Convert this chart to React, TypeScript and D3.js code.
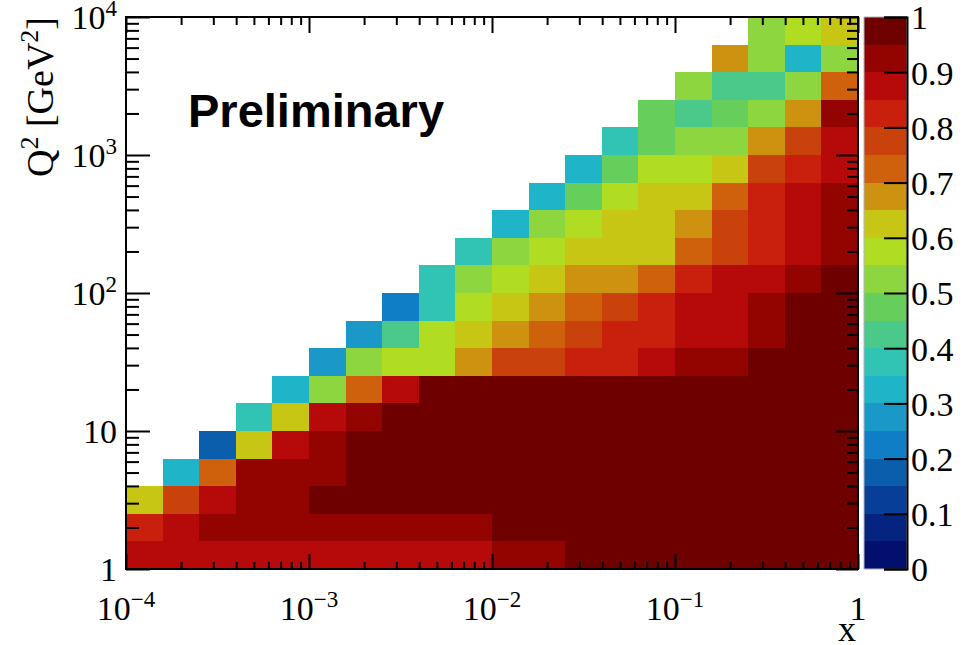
import React, { useEffect, useRef } from "react";
import * as d3 from "d3";

// efficiency per (x, Q2) bin, one array per Q2 bin (bottom row first), null = no entries
const q2Row00 = [0.87, 0.87, 0.87, 0.87, 0.87, 0.87, 0.87, 0.87, 0.87, 0.87, 0.92, 0.92, 0.97, 0.97, 0.97, 0.97, 0.97, 0.97, 0.97, 0.97];
const q2Row01 = [0.82, 0.87, 0.92, 0.92, 0.92, 0.92, 0.92, 0.92, 0.92, 0.92, 0.97, 0.97, 0.97, 0.97, 0.97, 0.97, 0.97, 0.97, 0.97, 0.97];
const q2Row02 = [0.62, 0.77, 0.87, 0.92, 0.92, 0.97, 0.97, 0.97, 0.97, 0.97, 0.97, 0.97, 0.97, 0.97, 0.97, 0.97, 0.97, 0.97, 0.97, 0.97];
const q2Row03 = [null, 0.32, 0.72, 0.92, 0.92, 0.92, 0.97, 0.97, 0.97, 0.97, 0.97, 0.97, 0.97, 0.97, 0.97, 0.97, 0.97, 0.97, 0.97, 0.97];
const q2Row04 = [null, null, 0.17, 0.62, 0.87, 0.92, 0.97, 0.97, 0.97, 0.97, 0.97, 0.97, 0.97, 0.97, 0.97, 0.97, 0.97, 0.97, 0.97, 0.97];
const q2Row05 = [null, null, null, 0.37, 0.62, 0.87, 0.92, 0.97, 0.97, 0.97, 0.97, 0.97, 0.97, 0.97, 0.97, 0.97, 0.97, 0.97, 0.97, 0.97];
const q2Row06 = [null, null, null, null, 0.32, 0.52, 0.72, 0.87, 0.97, 0.97, 0.97, 0.97, 0.97, 0.97, 0.97, 0.97, 0.97, 0.97, 0.97, 0.97];
const q2Row07 = [null, null, null, null, null, 0.27, 0.52, 0.57, 0.57, 0.67, 0.77, 0.77, 0.82, 0.82, 0.87, 0.92, 0.92, 0.97, 0.97, 0.97];
const q2Row08 = [null, null, null, null, null, null, 0.27, 0.42, 0.57, 0.62, 0.67, 0.72, 0.77, 0.82, 0.82, 0.87, 0.87, 0.92, 0.97, 0.97];
const q2Row09 = [null, null, null, null, null, null, null, 0.22, 0.37, 0.57, 0.62, 0.67, 0.72, 0.77, 0.82, 0.87, 0.87, 0.92, 0.97, 0.97];
const q2Row10 = [null, null, null, null, null, null, null, null, 0.37, 0.52, 0.57, 0.62, 0.67, 0.67, 0.72, 0.82, 0.87, 0.87, 0.92, 0.97];
const q2Row11 = [null, null, null, null, null, null, null, null, null, 0.37, 0.52, 0.57, 0.62, 0.62, 0.62, 0.72, 0.77, 0.82, 0.87, 0.92];
const q2Row12 = [null, null, null, null, null, null, null, null, null, null, 0.32, 0.52, 0.57, 0.62, 0.62, 0.67, 0.77, 0.82, 0.87, 0.92];
const q2Row13 = [null, null, null, null, null, null, null, null, null, null, null, 0.32, 0.47, 0.57, 0.62, 0.62, 0.72, 0.82, 0.87, 0.92];
const q2Row14 = [null, null, null, null, null, null, null, null, null, null, null, null, 0.32, 0.47, 0.57, 0.57, 0.62, 0.77, 0.82, 0.87];
const q2Row15 = [null, null, null, null, null, null, null, null, null, null, null, null, null, 0.37, 0.47, 0.52, 0.52, 0.67, 0.77, 0.87];
const q2Row16 = [null, null, null, null, null, null, null, null, null, null, null, null, null, null, 0.47, 0.42, 0.47, 0.52, 0.67, 0.92];
const q2Row17 = [null, null, null, null, null, null, null, null, null, null, null, null, null, null, null, 0.52, 0.42, 0.42, 0.52, 0.72];
const q2Row18 = [null, null, null, null, null, null, null, null, null, null, null, null, null, null, null, null, 0.67, 0.52, 0.32, 0.52];
const q2Row19 = [null, null, null, null, null, null, null, null, null, null, null, null, null, null, null, null, null, 0.52, 0.57, 0.62];

const q2Rows = [q2Row00, q2Row01, q2Row02, q2Row03, q2Row04, q2Row05, q2Row06, q2Row07, q2Row08, q2Row09,
  q2Row10, q2Row11, q2Row12, q2Row13, q2Row14, q2Row15, q2Row16, q2Row17, q2Row18, q2Row19];

// axis ranges and labels
const xRange = [1e-4, 1];
const q2Range = [1, 1e4];
const binsPerDecade = 5;
const xTickValues = [1e-4, 1e-3, 1e-2, 1e-1, 1];
const xTickBase = ["10", "10", "10", "10", "1"];
const xTickExp = ["\u22124", "\u22123", "\u22122", "\u22121", ""];
const yTickValues = [1, 10, 100, 1000, 10000];
const yTickBase = ["1", "10", "10", "10", "10"];
const yTickExp = ["", "", "2", "3", "4"];
const zTicks = [0, 0.1, 0.2, 0.3, 0.4, 0.5, 0.6, 0.7, 0.8, 0.9, 1];

// 20 contour colours, low to high
const palette = [
  "#020f6c", "#04247f", "#073f98", "#0a5eac", "#0f7ec6", "#1a98c7", "#20b4c8", "#31c3b4", "#4bc98a", "#66cf5b",
  "#8dd63f", "#b0dc22", "#c7c614", "#cc9210", "#cf600c", "#c9420b", "#c8200c", "#b60a0a", "#930300", "#6e0000",
];

const W = 964;
const H = 645;
const left = 126, right = 858, top = 17, bottom = 569;
const zLeft = 864, zRight = 907;
const serif = "'Liberation Serif', 'DejaVu Serif', serif";

function EfficiencyMap() {
  const ref = useRef<SVGSVGElement>(null);

  useEffect(() => {
    const svg = d3.select(ref.current);
    svg.selectAll("*").remove();

    const x = d3.scaleLog().domain(xRange).range([left, right]);
    const y = d3.scaleLog().domain(q2Range).range([bottom, top]);
    const z = d3.scaleLinear().domain([0, 1]).range([bottom, top]);
    const color = d3.scaleQuantize<string>().domain([0, 1]).range(palette);

    const edge = (lo: number, i: number) => lo * Math.pow(10, i / binsPerDecade);

    // cells
    const cells: { i: number; j: number; v: number }[] = [];
    q2Rows.forEach((row, j) => row.forEach((v, i) => { if (v !== null) cells.push({ i, j, v }); }));

    svg.append("g")
      .attr("shape-rendering", "crispEdges")
      .selectAll("rect")
      .data(cells)
      .join("rect")
      .attr("x", d => x(edge(xRange[0], d.i)))
      .attr("width", d => x(edge(xRange[0], d.i + 1)) - x(edge(xRange[0], d.i)))
      .attr("y", d => y(edge(q2Range[0], d.j + 1)))
      .attr("height", d => y(edge(q2Range[0], d.j)) - y(edge(q2Range[0], d.j + 1)))
      .attr("fill", d => color(d.v));

    // frame
    svg.append("rect")
      .attr("x", left).attr("y", top)
      .attr("width", right - left).attr("height", bottom - top)
      .attr("fill", "none").attr("stroke", "black").attr("stroke-width", 2);

    const xAll = x.ticks();
    const yAll = y.ticks();
    const isMajor = (v: number) => Math.abs(Math.log10(v) - Math.round(Math.log10(v))) < 1e-6;
    const xMinor = xAll.filter(v => !isMajor(v));
    const yMinor = yAll.filter(v => !isMajor(v));

    const tickAxis = (axis: d3.Axis<d3.NumberValue>, tx: number, ty: number) => {
      const g = svg.append("g").attr("transform", `translate(${tx},${ty})`).call(axis);
      g.select(".domain").remove();
      g.selectAll(".tick line").attr("stroke", "black").attr("stroke-width", 2);
      g.selectAll(".tick text").remove();
    };

    tickAxis(d3.axisBottom(x).tickValues(xMinor).tickSize(-7), 0, bottom);
    tickAxis(d3.axisBottom(x).tickValues(xTickValues).tickSize(-15), 0, bottom);
    tickAxis(d3.axisTop(x).tickValues(xMinor).tickSize(-8), 0, top);
    tickAxis(d3.axisTop(x).tickValues(xTickValues).tickSize(-16), 0, top);
    tickAxis(d3.axisLeft(y).tickValues(yMinor).tickSize(-13), left, 0);
    tickAxis(d3.axisLeft(y).tickValues(yTickValues).tickSize(-24), left, 0);
    tickAxis(d3.axisRight(y).tickValues(yMinor).tickSize(-11), right, 0);
    tickAxis(d3.axisRight(y).tickValues(yTickValues).tickSize(-22), right, 0);

    // x tick labels
    const xl = svg.append("g").attr("font-family", serif).attr("font-size", 34).attr("fill", "black");
    xTickValues.forEach((v, k) => {
      const t = xl.append("text").attr("x", x(v)).attr("y", 620).attr("text-anchor", "middle");
      t.append("tspan").text(xTickBase[k]);
      if (xTickExp[k]) t.append("tspan").attr("font-size", 23).attr("dy", -13).text(xTickExp[k]);
    });

    // y tick labels
    const yl = svg.append("g").attr("font-family", serif).attr("font-size", 34).attr("fill", "black");
    yTickValues.forEach((v, k) => {
      const t = yl.append("text").attr("x", 117).attr("y", y(v) + 12).attr("text-anchor", "end");
      t.append("tspan").text(yTickBase[k]);
      if (yTickExp[k]) t.append("tspan").attr("font-size", 23).attr("dy", -13).text(yTickExp[k]);
    });

    // axis titles
    svg.append("text")
      .attr("x", right - 2).attr("y", 641)
      .attr("text-anchor", "end")
      .attr("font-family", serif).attr("font-size", 36)
      .text("x");

    const yt = svg.append("text")
      .attr("transform", `translate(53,${top}) rotate(-90)`)
      .attr("text-anchor", "end")
      .attr("font-family", serif).attr("font-size", 38);
    yt.append("tspan").text("Q");
    yt.append("tspan").attr("font-size", 26).attr("dy", -15).text("2");
    yt.append("tspan").attr("dy", 15).text(" [GeV");
    yt.append("tspan").attr("font-size", 26).attr("dy", -15).text("2");
    yt.append("tspan").attr("dy", 15).text("]");

    // colour bar
    const zg = svg.append("g").attr("shape-rendering", "crispEdges");
    zg.selectAll("rect")
      .data(palette)
      .join("rect")
      .attr("x", zLeft)
      .attr("width", zRight - zLeft)
      .attr("y", (c, k) => z((k + 1) / palette.length))
      .attr("height", (c, k) => z(k / palette.length) - z((k + 1) / palette.length))
      .attr("fill", c => c);
    svg.append("rect")
      .attr("x", zLeft).attr("y", top)
      .attr("width", zRight - zLeft).attr("height", bottom - top)
      .attr("fill", "none").attr("stroke", "#b4b4c0").attr("stroke-width", 1);

    const zAxis = svg.append("g")
      .attr("transform", `translate(${zRight},0)`)
      .call(d3.axisRight(z).tickValues(zTicks).tickSize(-23).tickPadding(4)
        .tickFormat(d => (+d === 0 || +d === 1 ? String(d) : d3.format(".1f")(+d))));
    zAxis.select(".domain").attr("stroke", "black").attr("stroke-width", 2);
    zAxis.selectAll(".tick line").attr("stroke", "black").attr("stroke-width", 2);
    zAxis.selectAll(".tick text")
      .attr("font-family", serif).attr("font-size", 34).attr("fill", "black").attr("dy", "0.35em");

    // label
    svg.append("text")
      .attr("x", 188).attr("y", 127)
      .attr("font-family", "'Liberation Sans', Arial, sans-serif")
      .attr("font-weight", "bold").attr("font-size", 47)
      .text("Preliminary");
  }, []);

  return (
    <svg ref={ref} width={W} height={H} viewBox={`0 0 ${W} ${H}`}
      style={{ position: "absolute", left: 0, top: 0, background: "white" }} />
  );
}

export default function App() {
  return <EfficiencyMap />;
}
